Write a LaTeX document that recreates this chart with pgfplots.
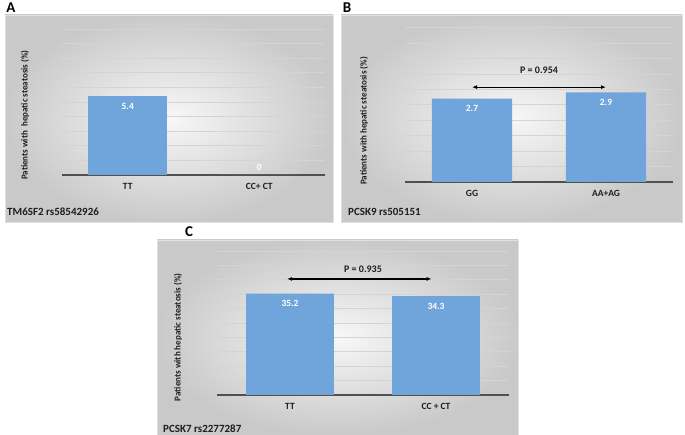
\documentclass[border=0pt]{standalone}
\usepackage{pgfplots}
\pgfplotsset{compat=1.18}
\usepackage{fontspec}
\setmainfont{Carlito}
\usetikzlibrary{arrows.meta}
\definecolor{barblue}{RGB}{111,165,219}
\definecolor{txt}{RGB}{30,30,30}
\definecolor{gridc}{RGB}{212,212,212}
\definecolor{basec}{RGB}{80,80,80}
\newcommand{\fs}[1]{\bfseries\fontsize{#1}{#1}\selectfont}
\pgfplotsset{panel/.style={
  scale only axis, ybar, bar width=0.6, xmin=-0.5, xmax=1.5, ymin=0,
  xtick={0,1}, axis line style={draw=none}, major tick length=0pt,
  yticklabels={}, ymajorgrids, grid style={draw=gridc, line width=0.6pt},
  extra y ticks={0}, extra y tick labels={},
  extra y tick style={ymajorgrids=true, major grid style={draw=basec, line width=1.3pt}},
  xticklabel style={font=\fs{9.5}, text=txt, yshift=-5pt},
  ylabel style={font=\fs{9}, text=txt, anchor=center},
  /pgf/number format/assume math mode=true,
  every node near coord/.style={anchor=center, yshift=-10pt, font=\fs{9.5}, text=white},
  clip=false,
}}
\begin{document}
\begin{tikzpicture}[x=1pt,y=1pt]
\path[use as bounding box] (0pt,0pt) rectangle (685pt,435pt);
% frames
\shade[inner color=white!97!black, outer color=black!21, draw=black!12, line width=0.6pt] (5pt,213pt) rectangle (333pt,420pt);
\shade[inner color=white!97!black, outer color=black!21, draw=black!12, line width=0.6pt] (341pt,213pt) rectangle (682pt,420pt);
\shade[inner color=white!97!black, outer color=black!21, draw=black!12, line width=0.6pt] (157pt,0pt) rectangle (518pt,195pt);
% panel letters and subtitles
\node[font=\fs{15}, text=black] at (11pt,427pt) {A};
\node[font=\fs{15}, text=black] at (347pt,427pt) {B};
\node[font=\fs{15}, text=black] at (189pt,203pt) {C};
\node[font=\fs{11}, text=txt, anchor=west, inner sep=0pt] at (7pt,223pt) {TM6SF2 rs58542926};
\node[font=\fs{11}, text=txt, anchor=west, inner sep=0pt] at (348pt,223pt) {PCSK9 rs505151};
\node[font=\fs{11}, text=txt, anchor=west, inner sep=0pt] at (163pt,6pt) {PCSK7 rs2277287};

% Panel A
\begin{axis}[panel, at={(62pt,260pt)}, anchor=south west, width=263pt, height=146pt,
  ymax=10, ytick={1,...,10}, xticklabels={TT,CC+ CT},
  ylabel={Patients with\ \ hepatic steatosis (\%)},
  ylabel style={at={(axis description cs:-0.141,0.41)}}]
\addplot[fill=barblue, draw=none, bar shift=0pt, nodes near coords] coordinates {(0,5.4)};
\addplot[fill=barblue, draw=none, bar shift=0pt] coordinates {(1,0)};
\node[font=\fs{9.5}, text=white] at (axis cs:1,0.55) {0};
\end{axis}

% Panel B
\begin{axis}[panel, at={(405pt,253pt)}, anchor=south west, width=268pt, height=154.5pt,
  ymax=5, ytick={0.5,1,...,5}, xticklabels={GG,AA+AG},
  ylabel={Patients with hepatic steatosis (\%)},
  ylabel style={at={(axis description cs:-0.153,0.395)}}]
\addplot[fill=barblue, draw=none, nodes near coords] coordinates {(0,2.7) (1,2.9)};
\draw[{Latex[length=5pt,width=4pt]}-{Latex[length=5pt,width=4pt]}, line width=1.2pt, black] (axis cs:0,3.07) -- (axis cs:1.0,3.07);
\node[font=\fs{10}, text=txt] at (axis cs:0.5,3.62) {P = 0.954};
\end{axis}

% Panel C
\begin{axis}[panel, at={(217pt,40pt)}, anchor=south west, width=292pt, height=144pt,
  ymax=50, ytick={5,10,...,50}, xticklabels={TT,CC + CT},
  ylabel={Patients with hepatic steatosis (\%)},
  ylabel style={at={(axis description cs:-0.134,0.40)}}]
\addplot[fill=barblue, draw=none, nodes near coords] coordinates {(0,35.2) (1,34.3)};
\draw[{Latex[length=5pt,width=4pt]}-{Latex[length=5pt,width=4pt]}, line width=1.2pt, black] (axis cs:-0.02,40.3) -- (axis cs:0.97,40.3);
\node[font=\fs{10}, text=txt] at (axis cs:0.5,43.75) {P = 0.935};
\end{axis}
\end{tikzpicture}
\end{document}
